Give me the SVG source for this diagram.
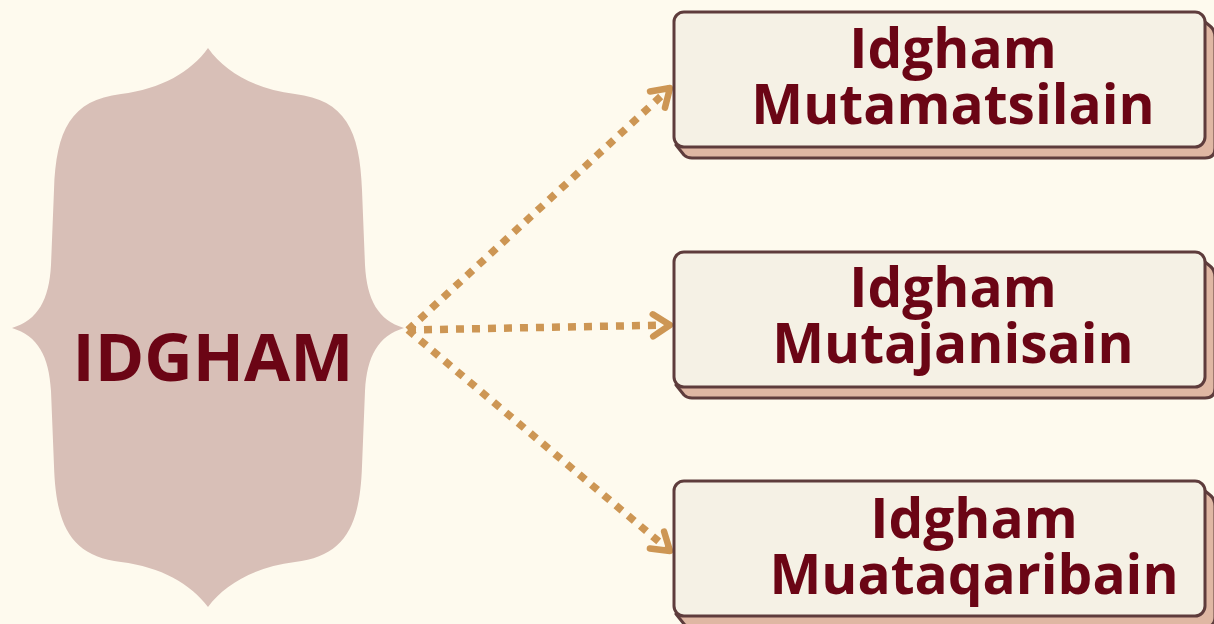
<svg xmlns="http://www.w3.org/2000/svg" width="1214" height="624" viewBox="0 0 1214 624">
<style>
.bg{fill:#fefaee}
.front{fill:#f5f1e5;stroke:#5e3c3c;stroke-width:3}
.ext{fill:#dfb7a3;stroke:#5e3c3c;stroke-width:3;stroke-linejoin:round}
.lbl{font-family:"Open Sans","Noto Sans","DejaVu Sans",sans-serif;font-weight:700;fill:#6b0515;text-anchor:middle;font-size:55px}
.main{font-family:"Open Sans","Noto Sans","DejaVu Sans",sans-serif;font-weight:700;fill:#6b0515;text-anchor:middle;font-size:67px}
.conn{fill:none;stroke:#cd9654;stroke-width:7.5;stroke-dasharray:8 8}
</style>
<defs>
<marker id="arr" markerUnits="userSpaceOnUse" markerWidth="30" markerHeight="30" viewBox="-22 -15 26 30" refX="0" refY="0" orient="auto">
<path d="M-17,-11 L0,0 L-17,11" fill="none" stroke="#cd9654" stroke-width="6.5" stroke-linecap="round" stroke-linejoin="round"/>
</marker>
<path id="extr" d="M520,1 L536,14 Q541,18 541,25 V136 Q541,146 531,146 H18 Q13,146 10,143 L2,133 Z"/>
</defs>
<rect class="bg" x="0" y="0" width="1214" height="624"/>
<g id="connectors">
<path class="conn" d="M408,330 L670,88" marker-end="url(#arr)"/>
<path class="conn" d="M408,330 L670,325" marker-end="url(#arr)"/>
<path class="conn" d="M408,330 L670,551" marker-end="url(#arr)"/>
</g>
<g id="idgham">
<path fill="#d8bfb7" d="M208,48 C225,72 255,89 295,94 C345,100 360,130 362,190 L365,265 C367,300 378,320 404,328 C378,336 367,356 365,391 L362,466 C360,526 345,556 295,562 C255,567 225,584 208,607 C191,584 161,567 121,562 C71,556 56,526 54,466 L51,391 C49,356 38,336 12,328 C38,320 49,300 51,265 L54,190 C56,130 71,100 121,94 C161,89 191,72 208,48 Z"/>
<text class="main" x="213" y="381">IDGHAM</text>
</g>
<g id="mutamatsilain" transform="translate(674,12)">
<use href="#extr" class="ext"/>
<rect class="front" x="0" y="0" width="531" height="135" rx="10"/>
<text class="lbl" x="279" y="56">Idgham</text>
<text class="lbl" x="279" y="112">Mutamatsilain</text>
</g>
<g id="mutajanisain" transform="translate(674,252)">
<use href="#extr" class="ext"/>
<rect class="front" x="0" y="0" width="531" height="135" rx="10"/>
<text class="lbl" x="279" y="55">Idgham</text>
<text class="lbl" x="279" y="111">Mutajanisain</text>
</g>
<g id="muataqaribain" transform="translate(674,481)">
<use href="#extr" class="ext"/>
<rect class="front" x="0" y="0" width="531" height="135" rx="10"/>
<text class="lbl" x="300" y="57">Idgham</text>
<text class="lbl" x="300" y="113">Muataqaribain</text>
</g>
</svg>
